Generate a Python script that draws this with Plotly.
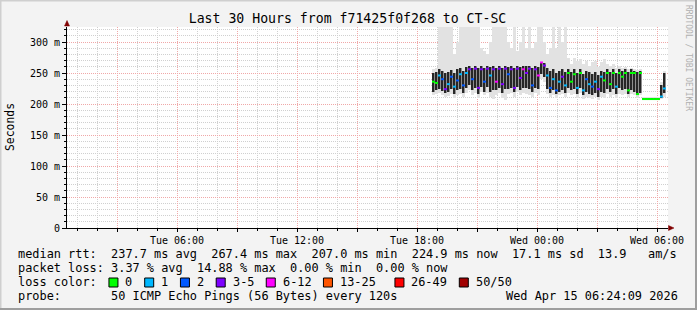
import plotly.graph_objects as go
import pandas as pd

# ---------------- data ----------------
median = [236,234,246,240,224,232,244,228,238,248,230,250,256,240,257,226,256,236,257,246,
          256,236,257,232,257,248,256,226,257,242,256,250,257,230,256,246,267,262,246,226,
          240,222,236,244,230,250,236,248,226,250,222,240,232,228,236,224,244,238,250,232,
          250,228,250,244,250,222,250,250,216,250,208,208,208,208,208,208,212,225]
loss = [0,0,1,2,3,1,2,1,2,1,2,1,3,2,3,3,3,2,3,1,
        3,6,3,3,3,2,3,3,3,3,6,3,3,2,3,6,6,3,1,2,
        1,2,1,3,1,0,0,0,1,0,1,2,1,2,1,3,1,0,0,0,
        0,1,0,0,0,0,0,0,0,0,0,0,0,0,0,0,1,1]
smoke_lo = [214,216,218,215,212,213,216,210,214,216,212,218,222,214,218,210,220,214,218,212,
            208,214,218,210,206,216,218,212,220,214,218,216,214,212,218,214,240,236,216,212,
            214,210,214,216,212,218,214,216,210,218,208,212,210,208,212,206,212,210,216,212,
            214,210,216,214,216,212,216,214,210,214,206,206,206,206,206,206,208,212]
core_lo = [219,222,224,221,218,220,224,216,222,224,218,226,230,222,226,216,228,220,228,220,
           222,222,226,218,224,224,226,220,228,222,226,226,224,220,226,224,248,244,224,218,
           222,216,220,222,218,226,222,224,216,226,214,220,216,214,218,212,220,218,224,220,
           224,216,226,222,224,216,222,220,214,218,207,207,207,207,207,207,210,218]
core_hi = [250,252,256,254,250,252,255,250,256,258,254,260,262,258,262,258,262,258,262,260,
           262,258,262,258,262,260,262,258,262,260,262,262,262,258,262,260,268,266,258,254,
           256,250,254,256,252,256,252,256,250,256,248,254,252,248,252,246,254,252,256,252,
           256,250,256,254,256,252,256,254,252,254,210,210,210,210,210,210,230,250]
smoke_hi = [256,258,335,335,335,330,335,280,300,335,335,335,335,335,335,335,290,285,280,300,
            335,335,335,335,335,300,290,335,285,300,335,290,335,290,300,335,335,300,280,290,
            335,290,335,300,335,275,265,275,270,272,265,270,262,268,270,260,268,272,265,262,
            264,258,262,258,260,256,258,256,255,256,211,211,211,211,211,211,236,254]

y_ticks = [0, 50, 100, 150, 200, 250, 300]
y_labels = ["0", "50 m", "100 m", "150 m", "200 m", "250 m", "300 m"]
x_ticks = ["2026-04-14 03:00", "2026-04-14 06:00", "2026-04-14 09:00", "2026-04-14 12:00",
           "2026-04-14 15:00", "2026-04-14 18:00", "2026-04-14 21:00", "2026-04-15 00:00",
           "2026-04-15 03:00", "2026-04-15 06:00"]
x_labels = ["", "Tue 06:00", "", "Tue 12:00", "", "Tue 18:00", "", "Wed 00:00", "", "Wed 06:00"]

loss_names = ["0", "1", "2", "3-5", "6-12", "13-25", "26-49", "50/50"]
loss_colors = ["#00ff00", "#00b8ff", "#0059ff", "#7e00ff", "#ff00ff", "#ff5500", "#ff0000", "#a10000"]

title = "Last 30 Hours from f71425f0f268 to CT-SC"
line1 = "median rtt:  237.7 ms avg  267.4 ms max  207.0 ms min  224.9 ms now  17.1 ms sd  13.9   am/s"
line2 = "packet loss: 3.37 % avg  14.88 % max  0.00 % min  0.00 % now"
line4 = "probe:       50 ICMP Echo Pings (56 Bytes) every 120s"
stamp = "Wed Apr 15 06:24:09 2026"

# ---------------- layout geometry ----------------
W, H = 697, 310
L, R, T, B = 67, 668, 27, 228
MONO = "DejaVu Sans Mono"

def px(x):
    return (x - L) / (R - L)

def py(y):
    return (B - y) / (B - T)

def loss_cat(n):
    if n == 0: return 0
    if n == 1: return 1
    if n == 2: return 2
    if n <= 5: return 3
    if n <= 12: return 4
    if n <= 25: return 5
    if n <= 49: return 6
    return 7

times = pd.date_range("2026-04-14 18:45", periods=len(median), freq="9min")
step = pd.Timedelta(minutes=9)
step_ms = 9 * 60 * 1000

fig = go.Figure()

# smoke: outer (light), core (medium) and dark streaks
fig.add_trace(go.Bar(x=times, base=smoke_lo, y=[h - l for h, l in zip(smoke_hi, smoke_lo)],
                     width=step_ms, offset=0, marker=dict(color="#e2e2e2", line=dict(width=0)),
                     showlegend=False, hoverinfo="skip"))
fig.add_trace(go.Bar(x=times, base=core_lo, y=[h - l for h, l in zip(core_hi, core_lo)],
                     width=step_ms, offset=0, marker=dict(color="#8e8e8e", line=dict(width=0)),
                     showlegend=False, hoverinfo="skip"))
fig.add_trace(go.Bar(x=times, base=core_lo, y=[h - l for h, l in zip(core_hi, core_lo)],
                     width=step_ms * 0.6, offset=step_ms * 0.2, marker=dict(color="#262626", line=dict(width=0)),
                     showlegend=False, hoverinfo="skip"))

# median marks coloured by loss (one short segment per sample)
cats = [loss_cat(n) for n in loss]
for c in range(len(loss_colors)):
    xs, ys = [], []
    for i, (t, m) in enumerate(zip(times, median)):
        if cats[i] != c:
            continue
        xs += [t, t + step, None]
        ys += [m, m, None]
    if xs:
        fig.add_trace(go.Scatter(x=xs, y=ys, mode="lines", line=dict(color=loss_colors[c], width=2),
                                 showlegend=False, hoverinfo="skip", connectgaps=False))

fig.update_layout(
    width=W, height=H,
    margin=dict(l=L, r=W - R, t=T, b=H - B, pad=0),
    paper_bgcolor="#f3f3f3", plot_bgcolor="#ffffff",
    barmode="overlay", bargap=0,
    font=dict(family=MONO, size=10, color="#000000"),
    title=dict(text=title, x=347.5 / W, y=1 - 18.5 / H, xref="container", yref="container",
               xanchor="center", yanchor="middle", font=dict(family=MONO, size=13.2, color="#000000")),
    showlegend=False,
)

fig.update_xaxes(
    type="date", range=["2026-04-14 00:30", "2026-04-15 06:33"],
    tickmode="array", tickvals=x_ticks, ticktext=x_labels,
    ticks="outside", ticklen=3, tickcolor="#000000",
    showgrid=True, gridcolor="#f0a8a8", gridwidth=1, griddash="1px,1px",
    minor=dict(dtick=3600000, tick0="2026-04-14 00:00", showgrid=True, gridcolor="#d0d0d0",
               griddash="1px,1px", ticks="outside", ticklen=2, tickcolor="#000000"),
    showline=True, linecolor="#000000", linewidth=1, zeroline=False,
    tickfont=dict(family=MONO, size=10, color="#000000"), fixedrange=True,
)
fig.update_yaxes(
    range=[0, (B - T) / 0.62], tickmode="array", tickvals=y_ticks, ticktext=y_labels,
    ticks="outside", ticklen=4, tickcolor="#000000",
    showgrid=True, gridcolor="#f0a8a8", gridwidth=1, griddash="1px,1px",
    minor=dict(dtick=10, tick0=0, showgrid=True, gridcolor="#d0d0d0", griddash="1px,1px",
               ticks="outside", ticklen=2, tickcolor="#000000"),
    showline=True, linecolor="#000000", linewidth=1, zeroline=False,
    tickfont=dict(family=MONO, size=10, color="#000000"), fixedrange=True,
)

annotations = []
def text_at(x, y, s, size=11.9, color="#000000", xanchor="left", angle=0):
    annotations.append(dict(x=px(x), y=py(y), xref="paper", yref="paper", text=s.replace(" ", "\u00a0"),
                            showarrow=False, xanchor=xanchor, yanchor="middle", textangle=angle,
                            font=dict(family=MONO, size=size, color=color)))

CW = 7.15
text_at(16, 254, line1)
text_at(16, 268, line2)
text_at(16, 282, "loss color:")
label_idx = [15, 20, 25, 30, 37, 45, 55, 64]
box_idx = [13, 18, 23, 28, 35, 43, 53, 62]
shapes = []
for name, color, li, bi in zip(loss_names, loss_colors, label_idx, box_idx):
    text_at(16 + li * CW, 282, name)
    bx = 16 + bi * CW
    shapes.append(dict(type="rect", xref="paper", yref="paper", x0=px(bx), x1=px(bx + 9),
                       y0=py(287), y1=py(278), fillcolor=color, line=dict(color="#000000", width=1)))
text_at(16, 296, line4)
text_at(680, 296, stamp, xanchor="right")
text_at(9.5, 127.5, "Seconds", size=11.4, angle=-90, xanchor="center")
text_at(688, 58, "RRDTOOL / TOBI OETIKER", size=8, color="#b0b0b0", angle=90, xanchor="center")

# axis arrows
shapes.append(dict(type="path", xref="paper", yref="paper",
                   path=f"M {px(64.5)},{py(26)} L {px(69.5)},{py(26)} L {px(67)},{py(20.5)} Z",
                   fillcolor="#800000", line=dict(color="#800000", width=0.5)))
shapes.append(dict(type="path", xref="paper", yref="paper",
                   path=f"M {px(668.5)},{py(225.5)} L {px(668.5)},{py(230.5)} L {px(674)},{py(228)} Z",
                   fillcolor="#800000", line=dict(color="#800000", width=0.5)))
# 3D frame around image
shapes.append(dict(type="line", xref="paper", yref="paper", x0=px(0), x1=px(W), y0=py(0.5), y1=py(0.5),
                   line=dict(color="#cfcfcf", width=2)))
shapes.append(dict(type="line", xref="paper", yref="paper", x0=px(0.5), x1=px(0.5), y0=py(0), y1=py(H),
                   line=dict(color="#cfcfcf", width=2)))
shapes.append(dict(type="line", xref="paper", yref="paper", x0=px(0), x1=px(W), y0=py(H - 1), y1=py(H - 1),
                   line=dict(color="#9e9e9e", width=2)))
shapes.append(dict(type="line", xref="paper", yref="paper", x0=px(W - 1), x1=px(W - 1), y0=py(0), y1=py(H),
                   line=dict(color="#9e9e9e", width=2)))

fig.update_layout(annotations=annotations, shapes=shapes)
fig.write_html("out.html", config={"displayModeBar": False})
